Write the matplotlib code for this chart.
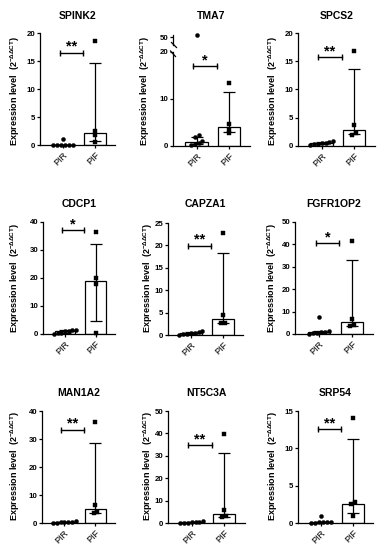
import numpy as np
import matplotlib
matplotlib.use('Agg')
import matplotlib.pyplot as plt
from matplotlib.lines import Line2D

plt.rcParams['font.family'] = ['Liberation Sans', 'DejaVu Sans']
plt.rcParams['mathtext.fontset'] = 'custom'
plt.rcParams['mathtext.rm'] = 'Liberation Sans'
plt.rcParams['mathtext.bf'] = 'Liberation Sans:bold'
plt.rcParams['mathtext.it'] = 'Liberation Sans:italic'

# ---------------- data ----------------
genes = ['SPINK2', 'TMA7', 'SPCS2', 'CDCP1', 'CAPZA1', 'FGFR1OP2',
         'MAN1A2', 'NT5C3A', 'SRP54']
groups = ['PIR', 'PIF']

pir_points = [
    [1.0, 0.08, 0.05, 0.03, 0.02, 0.01, 0.0],
    [51.0, 2.3, 1.9, 1.0, 0.7, 0.4, 0.2],
    [0.9, 0.7, 0.6, 0.5, 0.4, 0.3, 0.2],
    [1.6, 1.3, 1.1, 0.9, 0.5, 0.2, 0.1],
    [0.9, 0.6, 0.5, 0.4, 0.3, 0.2, 0.1],
    [7.6, 1.5, 1.0, 0.7, 0.5, 0.3, 0.2],
    [0.8, 0.5, 0.4, 0.3, 0.2, 0.1, 0.05],
    [0.8, 0.5, 0.4, 0.3, 0.2, 0.1, 0.05],
    [1.0, 0.2, 0.15, 0.1, 0.1, 0.05, 0.02],
]
pif_points = [
    [18.5, 2.5, 1.7, 0.5],
    [13.5, 4.7, 3.5, 2.7],
    [16.8, 3.8, 2.3, 2.0],
    [36.3, 20.0, 18.0, 0.4],
    [22.8, 4.4, 2.7, 2.6],
    [41.7, 6.5, 4.0, 3.4],
    [35.9, 6.3, 4.0, 3.6],
    [39.9, 5.6, 3.2, 2.8],
    [14.1, 2.8, 2.6, 1.0],
]
# medians and interquartile ranges
pir_median = [0.05, 0.8, 0.45, 0.9, 0.4, 0.7, 0.3, 0.3, 0.1]
pir_q1 = [0.02, 0.4, 0.3, 0.2, 0.2, 0.3, 0.1, 0.1, 0.05]
pir_q3 = [0.08, 2.0, 0.7, 1.4, 0.6, 1.3, 0.5, 0.5, 0.15]
pif_median = [2.1, 4.1, 2.9, 19.0, 3.5, 5.5, 5.0, 4.2, 2.6]
pif_q1 = [0.8, 2.9, 2.1, 4.8, 2.6, 3.5, 3.7, 2.9, 1.4]
pif_q3 = [14.6, 11.4, 13.7, 32.3, 18.3, 33.0, 28.5, 31.2, 11.3]

signif = ['**', '*', '**', '*', '**', '*', '**', '**', '**']
bracket_y = [16.5, 17.0, 15.7, 37.0, 19.9, 40.5, 33.3, 34.6, 12.6]
y_max = [20, 20, 20, 40, 25, 50, 40, 50, 15]
y_step = [5, 10, 5, 10, 5, 10, 10, 10, 5]
tma7_upper_tick = 50

# ---------------- layout (pixels) ----------------
W, H = 388, 550
boxes = [(40, 33, 115, 145), (173, 52, 250, 146), (298, 33, 375, 146),
         (43, 222, 115, 334), (168, 223, 243, 335), (295, 222, 373, 334),
         (42, 411, 115, 523), (168, 411, 245, 523), (298, 411, 373, 523)]
ylabel_x = [15, 145, 273, 15, 148, 272, 15, 148, 273]
row_title_y = [16, 204, 393]
row_label_y = [91, 278, 466]
XL = (-0.72, 1.63)

fig = plt.figure(figsize=(W / 100, H / 100), dpi=100)


def px_rect(l, t, r, b):
    return [l / W, 1 - b / H, (r - l) / W, (b - t) / H]


def swarm(vals, ymax, hpx, spacing=0.12, thresh=3.3):
    vals = np.asarray(vals, float)
    offs = np.zeros(len(vals))
    if len(vals) == 0:
        return offs
    order = np.argsort(vals)
    clusters, cur = [], [order[0]]
    for idx in order[1:]:
        if (vals[idx] - vals[cur[-1]]) / ymax * hpx < thresh:
            cur.append(idx)
        else:
            clusters.append(cur)
            cur = [idx]
    clusters.append(cur)
    for c in clusters:
        k = len(c)
        for j, i in enumerate(c):
            offs[i] = (j - (k - 1) / 2) * spacing
    return offs


def style_axis(ax):
    for s in ['top', 'right']:
        ax.spines[s].set_visible(False)
    for s in ['left', 'bottom']:
        ax.spines[s].set_linewidth(0.9)
    ax.tick_params(axis='y', length=2.3, width=0.9, pad=1, labelsize=5.7)
    ax.tick_params(axis='x', length=2.3, width=0.9, pad=1.5, labelsize=6.5)
    for lab in ax.get_yticklabels():
        lab.set_fontweight('bold')


for i, g in enumerate(genes):
    l, t, r, b = boxes[i]
    ax = fig.add_axes(px_rect(l, t, r, b))
    ymax = y_max[i]
    hpx = b - t
    ax.set_xlim(*XL)
    ax.set_ylim(0, ymax)
    ax.set_yticks(np.arange(0, ymax + 0.01, y_step[i]))
    ax.set_yticklabels([f'{int(v)}' for v in np.arange(0, ymax + 0.01, y_step[i])])
    ax.set_xticks([0, 1])
    ax.set_xticklabels(groups, rotation=45, ha='right', va='top',
                       rotation_mode='anchor')
    style_axis(ax)

    meds = [pir_median[i], pif_median[i]]
    q1s = [pir_q1[i], pif_q1[i]]
    q3s = [pir_q3[i], pif_q3[i]]
    ax.bar([0, 1], meds, width=0.68, facecolor='white', edgecolor='black',
           linewidth=0.9, zorder=2)
    ax.errorbar([0, 1], meds,
                yerr=[np.array(meds) - np.array(q1s), np.array(q3s) - np.array(meds)],
                fmt='none', ecolor='black', elinewidth=0.9, capsize=4,
                capthick=0.9, zorder=3)

    pts = [np.array(pir_points[i]), np.array(pif_points[i])]
    markers = ['o', 's']
    sizes = [2.9, 2.8]
    upper_pts = []
    for k in range(2):
        v = pts[k]
        inside = v[v <= ymax]
        upper_pts += list(v[v > ymax])
        offs = swarm(inside, ymax, hpx)
        ax.plot(k + offs, inside, linestyle='none', marker=markers[k],
                ms=sizes[k], mfc='black', mec='black', mew=0.3,
                zorder=4, clip_on=False)

    # significance bracket
    x0, x1 = -0.1, 0.62
    yb = bracket_y[i]
    ax.plot([x0, x1], [yb, yb], color='black', lw=1.0, zorder=5, clip_on=False)
    ax.plot([x0, x1], [yb, yb], linestyle='none', marker='|', ms=5, mew=1.0,
            color='black', zorder=5, clip_on=False)
    ax.annotate(signif[i], xy=((x0 + x1) / 2, yb), xytext=(0, -0.8),
                textcoords='offset points', ha='center', va='bottom',
                fontsize=10.5, fontweight='bold')

    # titles and labels
    row = i // 3
    fig.text((l + r) / 2 / W, 1 - row_title_y[row] / H, g, ha='center',
             va='center', fontsize=7.5, fontweight='bold')
    fig.text(ylabel_x[i] / W, 1 - row_label_y[row] / H,
             r'Expression level  (2$^{\mathbf{-\Delta\Delta CT}}$)',
             rotation=90, ha='center', va='center', fontsize=6.5,
             fontweight='bold')

    if upper_pts:
        # broken axis upper segment
        axu = fig.add_axes(px_rect(l, 35, r, 45))
        axu.set_xlim(*XL)
        axu.set_ylim(46.5, 51)
        axu.set_yticks([tma7_upper_tick])
        axu.set_yticklabels([str(tma7_upper_tick)])
        axu.set_xticks([])
        for s in ['top', 'right', 'bottom']:
            axu.spines[s].set_visible(False)
        axu.spines['left'].set_linewidth(0.9)
        axu.tick_params(axis='y', length=2.3, width=0.9, pad=1, labelsize=5.7)
        for lab in axu.get_yticklabels():
            lab.set_fontweight('bold')
        axu.patch.set_alpha(0)
        axu.plot([0] * len(upper_pts), upper_pts, linestyle='none', marker='o',
                 ms=2.9, mfc='black', mec='black', mew=0.3, clip_on=False)
        for (xa, ya, xb, yb2) in [(l - 1.5, 42.5, l + 3.5, 47.5),
                                  (l - 2.5, 51, l + 2.5, 56.5)]:
            fig.add_artist(Line2D([xa / W, xb / W], [1 - ya / H, 1 - yb2 / H],
                                  transform=fig.transFigure, color='black',
                                  lw=0.9))

fig.savefig('out.png', dpi=100)
